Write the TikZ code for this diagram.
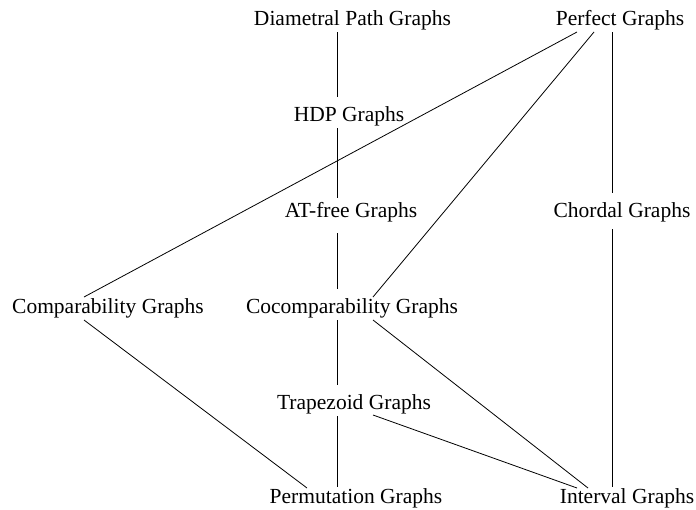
\documentclass[tikz,border=0pt]{standalone}
\usepackage{fontspec}
\setmainfont{Liberation Serif}
\begin{document}
\begin{tikzpicture}[x=1pt,y=-1pt,
  lbl/.style={anchor=base,inner sep=0pt,font=\fontsize{21.5}{24}\selectfont},
  edge/.style={line width=0.8pt,black}]
\useasboundingbox (0,0) rectangle (696,509);
\node[lbl] (dp)  at (352.5,25) {Diametral Path Graphs};
\node[lbl] (pg)  at (620,25)   {Perfect Graphs};
\node[lbl] (hdp) at (349,121)  {HDP Graphs};
\node[lbl] (at)  at (351,217)  {AT-free Graphs};
\node[lbl] (ch)  at (622,217)  {Chordal Graphs};
\node[lbl] (cp)  at (108,313)  {Comparability Graphs};
\node[lbl] (cc)  at (352,313)  {Cocomparability Graphs};
\node[lbl] (tr)  at (354,409)  {Trapezoid Graphs};
\node[lbl] (pm)  at (356,503)  {Permutation Graphs};
\node[lbl] (iv)  at (627,503)  {Interval Graphs};
\draw[edge] ([shift={(-15.5,7)}]dp.base) -- ([shift={(-12,-24)}]hdp.base);
\draw[edge] ([shift={(-12,7)}]hdp.base) -- ([shift={(-14,-19)}]at.base);
\draw[edge] ([shift={(-14,16)}]at.base) -- ([shift={(-15,-24)}]cc.base);
\draw[edge] ([shift={(-15,7)}]cc.base) -- ([shift={(-17,-24)}]tr.base);
\draw[edge] ([shift={(-17,7)}]tr.base) -- ([shift={(-19,-16)}]pm.base);
\draw[edge] ([shift={(-8,7)}]pg.base) -- ([shift={(-10,-24)}]ch.base);
\draw[edge] ([shift={(-10,12)}]ch.base) -- ([shift={(-15,-16)}]iv.base);
\draw[edge] ([shift={(-43,7)}]pg.base) -- ([shift={(-24,-16)}]cp.base);
\draw[edge] ([shift={(-26,7)}]pg.base) -- ([shift={(21,-16)}]cc.base);
\draw[edge] ([shift={(-24,7)}]cp.base) -- ([shift={(-49,-15)}]pm.base);
\draw[edge] ([shift={(21,7)}]cc.base) -- ([shift={(-39,-15)}]iv.base);
\draw[edge] ([shift={(19,6)}]tr.base) -- ([shift={(-50,-15)}]iv.base);
\end{tikzpicture}
\end{document}
